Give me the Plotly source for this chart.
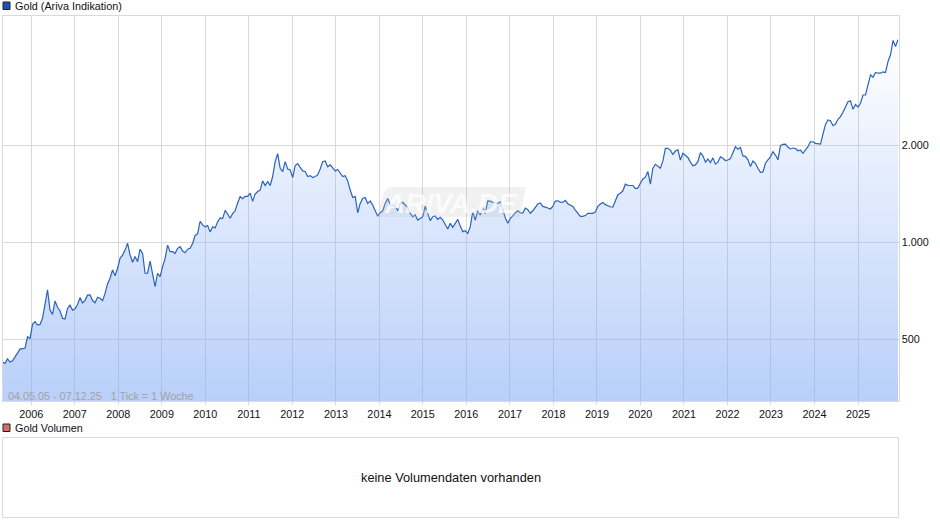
'''
Gold chart (Ariva style), log price axis with empty volume panel
'''
import pandas as pd
import plotly.graph_objects as go

W, H = 940, 526

# price every third week, one list per stretch of years
gold_2005_09 = [424, 420, 434, 424, 428, 440, 448, 465, 467, 468, 508, 502, 555, 566, 552, 555, 580,
                653, 710, 615, 596, 656, 627, 611, 580, 577, 622, 637, 614, 620, 640, 672, 647, 659,
                684, 685, 658, 648, 674, 669, 658, 693, 741, 772, 819, 786, 829, 890, 911, 944, 992,
                911, 865, 902, 869, 950, 922, 800, 800, 873, 800, 727, 800, 781, 839, 890, 978, 933]
gold_2009_13 = [933, 922, 956, 967, 938, 926, 950, 956, 990, 1048, 1060, 1160, 1130, 1115, 1125, 1075,
                1115, 1106, 1155, 1188, 1182, 1254, 1222, 1185, 1225, 1250, 1322, 1385, 1362, 1385,
                1385, 1418, 1337, 1408, 1435, 1450, 1548, 1498, 1540, 1498, 1597, 1776, 1880, 1694,
                1655, 1776, 1686, 1675, 1585, 1727, 1752, 1712, 1662, 1655, 1597, 1607, 1585, 1597,
                1615, 1686, 1776, 1785, 1712, 1735, 1702, 1662, 1680, 1635, 1597, 1607, 1548, 1450,
                1375, 1385]
gold_2013_17 = [1233, 1318, 1365, 1375, 1318, 1342, 1302, 1250, 1205, 1233, 1250, 1318, 1365, 1308,
                1300, 1293, 1250, 1318, 1328, 1308, 1280, 1227, 1198, 1213, 1170, 1184, 1198, 1293,
                1227, 1165, 1198, 1205, 1176, 1193, 1170, 1130, 1098, 1143, 1110, 1143, 1176, 1121,
                1077, 1085, 1064, 1116, 1242, 1170, 1250, 1213, 1280, 1227, 1342, 1340, 1328, 1325,
                1318, 1334, 1250, 1190, 1143, 1184, 1205, 1233, 1250, 1233]
gold_2017_21 = [1230, 1275, 1260, 1228, 1250, 1281, 1312, 1322, 1290, 1284, 1275, 1266, 1290, 1340,
                1343, 1330, 1327, 1347, 1315, 1303, 1290, 1257, 1228, 1202, 1202, 1208, 1228, 1228,
                1228, 1240, 1290, 1312, 1327, 1306, 1293, 1287, 1284, 1337, 1402, 1418, 1442, 1512,
                1500, 1498, 1498, 1466, 1470, 1522, 1570, 1590, 1655, 1512, 1694, 1743, 1718, 1694,
                1785, 1953, 1953, 1925, 1870, 1916, 1935, 1797, 1885, 1852, 1830, 1770, 1725, 1735,
                1776, 1893, 1852, 1770]
gold_2021_25 = [1810, 1763, 1825, 1745, 1770, 1838, 1820, 1790, 1797, 1815, 1905, 1977, 1940, 1965,
                1850, 1845, 1800, 1716, 1785, 1756, 1695, 1645, 1650, 1756, 1800, 1838, 1908, 1862,
                1800, 1990, 2010, 2014, 1967, 1945, 1958, 1952, 1920, 1930, 1885, 1930, 1977, 2048,
                2048, 2024, 2020, 2014, 2163, 2318, 2392, 2380, 2296, 2324, 2404, 2450, 2528, 2644,
                2726, 2745, 2582, 2672, 2625, 2696, 2860, 2860, 3052, 3303, 3247, 3358, 3342, 3342,
                3375, 3358, 3633, 3812, 4225, 4046, 4245]
gold = gold_2005_09 + gold_2009_13 + gold_2013_17 + gold_2017_21 + gold_2021_25

years = list(range(2006, 2026))
price_ticks = [500, 1000, 2000]
price_labels = ['500', '1.000', '2.000']
start_date, end_date = '2005-05-04', '2025-12-07'
floor_price = 321

dates = pd.date_range(start_date, periods=len(gold), freq='21D')

GRID = '#d9d9d9'
FONT = 'Liberation Sans'
INK = '#111111'


def px(x):
    return x / W


def py(y):
    return 1 - y / H


def label(x, y, text, size=10.8, color=INK, anchor='left'):
    return dict(xref='paper', yref='paper', x=px(x), y=py(y), text=text, showarrow=False,
                xanchor=anchor, yanchor='middle', font=dict(family=FONT, size=size, color=color))


def swatch(y, color):
    return dict(type='rect', xref='paper', yref='paper', x0=px(3), x1=px(10), y0=py(y - 4), y1=py(y + 3.5),
                fillcolor=color, line=dict(color='#222222', width=1))


fig = go.Figure()
# flat baseline so the gradient box ends at the axis floor
fig.add_trace(go.Scatter(
    x=[dates[0], dates[-1]],
    y=[floor_price, floor_price],
    mode='lines',
    line=dict(width=0),
    hoverinfo='skip',
    showlegend=False,
))
fig.add_trace(go.Scatter(
    x=dates,
    y=gold,
    mode='lines',
    line=dict(color='#2a62bd', width=1.2),
    fill='tonexty',
    fillgradient=dict(type='vertical', colorscale=[(0, 'rgba(130,170,245,0.56)'), (1, 'rgba(130,170,245,0)')]),
    showlegend=False,
))

# watermark
mark_path = ('M {} {} Q {} {} {} {} L {} {} L {} {} L {} {} Z').format(
    px(392), py(187), px(386), py(187), px(383), py(195),
    px(377), py(217), px(520), py(217), px(526), py(187))

fig.update_layout(
    width=W,
    height=H,
    margin=dict(l=0, r=0, t=0, b=0),
    paper_bgcolor='white',
    plot_bgcolor='white',
    font=dict(family=FONT, size=10.8, color=INK),
    xaxis=dict(
        domain=[px(2.5), px(898.5)],
        type='date',
        range=[start_date, end_date],
        tickvals=[f'{y}-01-01' for y in years],
        ticktext=[str(y) for y in years],
        ticks='outside',
        ticklen=3,
        tickcolor=GRID,
        showgrid=True,
        gridcolor=GRID,
        gridwidth=1,
        showline=True,
        linecolor=GRID,
        mirror=True,
        zeroline=False,
    ),
    yaxis=dict(
        domain=[py(401), py(16)],
        type='log',
        range=[2.5065, 3.7016],
        side='right',
        tickvals=price_ticks,
        ticktext=price_labels,
        ticks='',
        showgrid=True,
        gridcolor=GRID,
        gridwidth=1,
        showline=True,
        linecolor=GRID,
        mirror=True,
        zeroline=False,
    ),
    shapes=[
        dict(type='path', xref='paper', yref='paper', path=mark_path,
             fillcolor='rgba(190,190,190,0.22)', line=dict(width=0)),
        swatch(6, '#1a56b0'),
        swatch(428, '#d96a6a'),
        dict(type='rect', xref='paper', yref='paper', x0=px(2.5), x1=px(898.5), y0=py(437.5), y1=py(517.5),
             line=dict(color=GRID, width=1)),
    ],
    annotations=[
        label(13, 6, 'Gold (Ariva Indikation)'),
        label(13, 428, 'Gold Volumen'),
        label(6, 395.5, '04.05.05 - 07.12.25 \u00a0 1 Tick = 1 Woche', color='#a3a3a3'),
        label(451, 477.5, 'keine Volumendaten vorhanden', size=12.8, anchor='center'),
        dict(xref='paper', yref='paper', x=px(451), y=py(203), text='<b><i>ARIVA.DE</i></b>', showarrow=False,
             font=dict(family=FONT, size=28, color='rgba(255,255,255,0.75)')),
    ],
)

# plotly's page keeps the browser's default body margin, drop it so pixels line up
fig.write_html("out.html", config={'displayModeBar': False},
               post_script="document.body.style.margin = '0';")
